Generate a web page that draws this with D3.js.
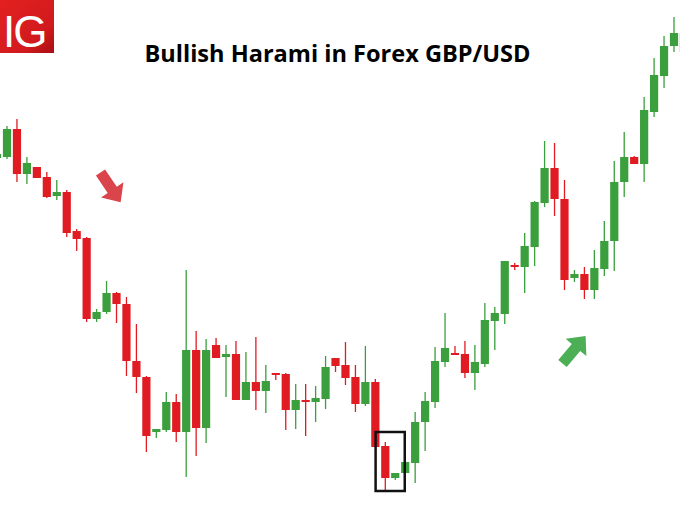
<!DOCTYPE html>
<html>
<head>
<meta charset="utf-8">
<script src="https://cdn.jsdelivr.net/npm/d3@7/dist/d3.min.js"></script>
<style>
  html, body { margin: 0; padding: 0; background: #fff; }
  svg { display: block; }
</style>
</head>
<body>
<div id="chart"></div>
<script>
// ---- DATA (price in points above an arbitrary base; no axis shown in the original) ----
const title = "Bullish Harami in Forex GBP/USD";
const sessions = d3.range(-1, 69);   // candle index; -1 and 68 are cut off by the frame
const opens  = [342,343,371,326,333,323,304,308,269,262,181,188,207,196,139,123,68,70,98,68,150,72,155,143,146,100,118,109,127,126,90,100,98,101,142,135,123,96,118,54,22,27,37,78,98,138,147,146,127,136,179,186,235,233,253,297,332,301,222,226,210,231,259,318,343,336,388,424,454,467];
const closes = [346,371,326,337,322,303,308,267,261,181,188,207,196,139,123,64,71,98,68,150,72,150,142,146,100,118,109,119,125,90,100,98,102,133,134,122,96,118,53,22,27,38,78,99,139,152,146,127,138,180,187,239,233,254,298,332,301,220,226,210,232,259,318,343,336,390,425,454,467,448];
const highs  = [350,374,381,343,333,328,320,310,271,263,191,219,208,203,176,124,71,108,106,230,169,161,162,155,159,148,163,135,127,127,116,116,114,144,142,158,135,154,121,58,27,38,88,108,153,187,154,159,155,197,193,239,237,267,299,359,357,320,230,233,250,279,339,368,344,403,442,464,483,470];
const lows   = [340,341,318,316,322,302,300,263,249,178,178,186,177,124,107,48,62,68,58,23,44,57,142,103,100,100,90,87,120,70,71,64,78,91,128,115,88,94,53,10,20,27,17,49,92,133,145,122,110,133,150,176,230,207,234,293,284,210,218,201,201,224,229,303,336,318,383,412,448,440];
const haramiPair = [38, 39];         // the two candles of the pattern (mother bar, inside bar)

// ---- LAYOUT ----
const W = 680, H = 520;
const svg = d3.select("#chart").append("svg").attr("width", W).attr("height", H);

const x = d3.scaleLinear().domain([0, 67]).range([7, 674]);
const y = d3.scaleLinear().domain([0, 500]).range([500, 0]);
const bodyW = 8.2;
const UP = "#3a9f3c", DOWN = "#e01b21";

const candles = sessions.map((s, k) => ({
  i: s, o: opens[k], c: closes[k], h: highs[k], l: lows[k]
}));

const g = svg.append("g");
// wicks
g.selectAll("line.wick").data(candles).join("line")
  .attr("class", "wick")
  .attr("x1", d => x(d.i)).attr("x2", d => x(d.i))
  .attr("y1", d => y(d.h)).attr("y2", d => y(d.l))
  .attr("stroke", d => d.c >= d.o ? UP : DOWN)
  .attr("stroke-width", 1.3);
// bodies
g.selectAll("rect.body").data(candles).join("rect")
  .attr("class", "body")
  .attr("x", d => x(d.i) - bodyW / 2)
  .attr("width", bodyW)
  .attr("y", d => y(Math.max(d.o, d.c)))
  .attr("height", d => Math.max(2, Math.abs(y(d.o) - y(d.c))))
  .attr("fill", d => d.c >= d.o ? UP : DOWN);

// harami box
const pair = candles.filter(d => haramiPair.includes(d.i));
const bx0 = x(haramiPair[0]) - 9.7, bx1 = x(haramiPair[1]) + 9.5;
const by0 = y(d3.max(pair, d => d.h)) - 10, by1 = y(d3.min(pair, d => d.l)) + 1;
svg.append("rect")
  .attr("x", bx0).attr("y", by0)
  .attr("width", bx1 - bx0).attr("height", by1 - by0)
  .attr("fill", "none").attr("stroke", "#111").attr("stroke-width", 2.5);

// arrows (annotation)
function arrow(cx, cy, angle, color) {
  // local shape pointing along +x, tail at 0
  const L = 36, L1 = 21, w1 = 5.5, w2 = 13.5;
  const pts = [[0,-w1],[L1,-w1],[L1,-w2],[L,0],[L1,w2],[L1,w1],[0,w1]];
  svg.append("polygon")
    .attr("points", pts.map(p => p.join(",")).join(" "))
    .attr("transform", `translate(${cx},${cy}) rotate(${angle})`)
    .attr("fill", color);
}
arrow(100.5, 172.5, 56, "#d9454b");
arrow(562.5, 363.5, -50, "#4caf55");

// title
svg.append("text")
  .attr("x", 337.5).attr("y", 62)
  .attr("text-anchor", "middle")
  .attr("font-family", "'Open Sans', 'Noto Sans', sans-serif")
  .attr("font-weight", "bold")
  .attr("font-size", 23)
  .attr("textLength", 386).attr("lengthAdjust", "spacingAndGlyphs")
  .attr("fill", "#000")
  .text(title);

// IG logo
const defs = svg.append("defs");
const grad = defs.append("linearGradient").attr("id", "igGrad")
  .attr("x1", "0").attr("y1", "0").attr("x2", "1").attr("y2", "1");
grad.append("stop").attr("offset", "0%").attr("stop-color", "#e3211f");
grad.append("stop").attr("offset", "70%").attr("stop-color", "#d11a1e");
grad.append("stop").attr("offset", "100%").attr("stop-color", "#a80f14");
svg.append("rect").attr("x", 0).attr("y", 0).attr("width", 54).attr("height", 53)
  .attr("fill", "url(#igGrad)");
svg.append("text")
  .attr("x", 3).attr("y", 47)
  .attr("font-family", "'Liberation Sans', Arial, sans-serif")
  .attr("font-size", 44)
  .attr("letter-spacing", -2)
  .attr("fill", "#fff")
  .text("IG");
</script>
</body>
</html>
